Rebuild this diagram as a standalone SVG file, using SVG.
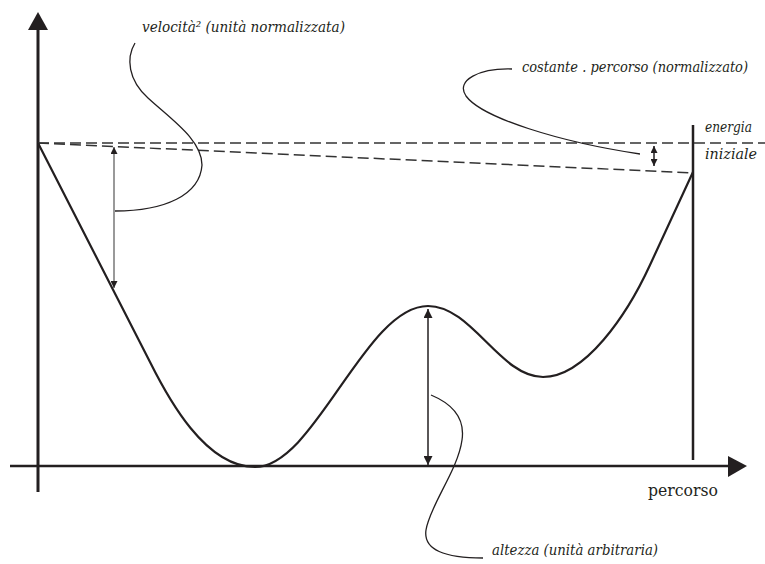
<svg xmlns="http://www.w3.org/2000/svg" width="765" height="564" viewBox="0 0 765 564">
<style>
.axis{stroke:#231f20;fill:none}
.curve{stroke:#231f20;stroke-width:2.2;fill:none;stroke-linejoin:round}
.dash{stroke:#333;stroke-width:1.5;fill:none;stroke-dasharray:11 5}
.lead{stroke:#231f20;stroke-width:1.3;fill:none}
.dim{stroke:#555;stroke-width:1.2;fill:none}
.dimk{stroke:#231f20;stroke-width:1.5;fill:none}
.script{font-family:"DejaVu Serif",serif;font-style:italic;font-size:14px;fill:#231f20}
.label{font-family:"DejaVu Serif",serif;font-size:16px;fill:#231f20}
</style>
<defs>
<marker id="ah" viewBox="0 0 10 10" refX="10" refY="5" markerWidth="7" markerHeight="7" markerUnits="userSpaceOnUse" orient="auto-start-reverse">
<path d="M0,0 L10,5 L0,10 z" fill="#231f20"/>
</marker>
<marker id="ahk" viewBox="0 0 10 10" refX="10" refY="5" markerWidth="9" markerHeight="9" markerUnits="userSpaceOnUse" orient="auto-start-reverse">
<path d="M0,0 L10,5 L0,10 z" fill="#231f20"/>
</marker>
</defs>
<rect width="765" height="564" fill="#fff"/>
<g id="axes">
<line class="axis" x1="38" y1="492" x2="38" y2="28" stroke-width="3"/>
<polygon points="38,12 28,30 48,30" fill="#231f20"/>
<line class="axis" x1="10" y1="466" x2="730" y2="466" stroke-width="2.5" stroke="#444"/>
<polygon points="747,466 728,456 728,477" fill="#231f20"/>
<line class="axis" x1="693" y1="125" x2="693" y2="460" stroke-width="2.5"/>
<text class="label" x="648" y="496" textLength="70" lengthAdjust="spacingAndGlyphs">percorso</text>
</g>
<g id="energy-lines">
<line class="dash" x1="38" y1="143" x2="765" y2="143"/>
<line class="dash" x1="38" y1="143" x2="693" y2="173"/>
</g>
<g id="profile">
<path class="curve" d="M38,143 L150,362 C 168,398 205,467 255,467 C 315,467 365,306 428,306 C 472,306 500,377 543,377 C 585,377 627,315 650,265 L693,172"/>
</g>
<g id="connectors">
<line class="dim" x1="114" y1="147" x2="114" y2="288" marker-start="url(#ah)" marker-end="url(#ah)"/>
<line class="dimk" x1="654" y1="146" x2="654" y2="166" marker-start="url(#ah)" marker-end="url(#ah)"/>
<line class="dimk" x1="428" y1="309" x2="428" y2="465" marker-start="url(#ahk)" marker-end="url(#ahk)"/>
<path class="lead" d="M135,43 C 126,58 128,80 148,98 C 172,120 202,140 202,165 C 200,195 165,211 115,211"/>
<path class="lead" d="M512,69 C 480,68 455,80 466,96 C 482,118 560,142 640,154"/>
<path class="lead" d="M431,395 C 455,405 465,420 462,440 C 458,470 430,505 426,530 C 423,550 445,558 483,558"/>
</g>
<g id="label-velocita">
<text class="script" x="142" y="32" textLength="203" lengthAdjust="spacingAndGlyphs">velocità² (unità normalizzata)</text>
</g>
<g id="label-costante">
<text class="script" x="522" y="72" textLength="226" lengthAdjust="spacingAndGlyphs">costante . percorso (normalizzato)</text>
</g>
<g id="label-energia">
<text class="script" x="705" y="132" textLength="47" lengthAdjust="spacingAndGlyphs">energia</text>
<text class="script" x="705" y="159" textLength="52" lengthAdjust="spacingAndGlyphs">iniziale</text>
</g>
<g id="label-altezza">
<text class="script" x="492" y="555" textLength="166" lengthAdjust="spacingAndGlyphs">altezza (unità arbitraria)</text>
</g>
</svg>
